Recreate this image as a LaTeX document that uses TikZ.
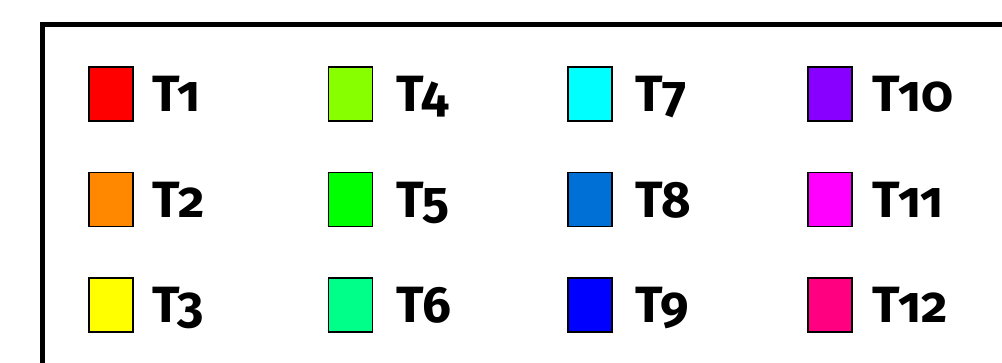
\documentclass[tikz,border=0pt]{standalone}
\usepackage{fontspec}
\setmainfont{Fira Sans}[Numbers=OldStyle]
\usetikzlibrary{positioning}

\definecolor{tone1}{HTML}{FF0000}
\definecolor{tone2}{HTML}{FF8800}
\definecolor{tone3}{HTML}{FFFF00}
\definecolor{tone4}{HTML}{88FF00}
\definecolor{tone5}{HTML}{00FF00}
\definecolor{tone6}{HTML}{00FF88}
\definecolor{tone7}{HTML}{00FFFF}
\definecolor{tone8}{HTML}{006FD6}
\definecolor{tone9}{HTML}{0000FF}
\definecolor{tone10}{HTML}{8800FF}
\definecolor{tone11}{HTML}{FF00FF}
\definecolor{tone12}{HTML}{FF0080}

\begin{document}
\begin{tikzpicture}[x=1pt,y=-1pt]

  \tikzstyle{every node}=[font=\fontsize{51}{51}\selectfont\bfseries]

  \tikzset{swatch/.style={draw=black,line width=1.6pt,minimum width=44pt,
      minimum height=54pt,inner sep=0pt,fill=#1}}
  \tikzset{tlabel/.style={inner sep=0pt,text height=35pt,text depth=0pt,anchor=west}}

  \useasboundingbox (0,0) rectangle (1002,363);

  % Frame, cut off at the right and bottom
  \begin{scope}
    \clip (0,0) rectangle (1002,363);
    \coordinate (frame top) at (1010,25);
    \coordinate (frame corner) at (42,25);
    \coordinate (frame bottom) at (42,370);
    \draw[line width=5pt] (frame top) -- (frame corner) -- (frame bottom);
  \end{scope}

  % First column
  \node[swatch=tone1] (T1 box) at (111,94) {};
  \node[swatch=tone2,below=50pt of T1 box] (T2 box) {};
  \node[swatch=tone3,below=50pt of T2 box] (T3 box) {};

  % Second column
  \node[swatch=tone4,right=194pt of T1 box] (T4 box) {};
  \node[swatch=tone5,below=50pt of T4 box] (T5 box) {};
  \node[swatch=tone6,below=50pt of T5 box] (T6 box) {};

  % Third column
  \node[swatch=tone7,right=194pt of T4 box] (T7 box) {};
  \node[swatch=tone8,below=50pt of T7 box] (T8 box) {};
  \node[swatch=tone9,below=50pt of T8 box] (T9 box) {};

  % Fourth column
  \node[swatch=tone10,right=194pt of T7 box] (T10 box) {};
  \node[swatch=tone11,below=50pt of T10 box] (T11 box) {};
  \node[swatch=tone12,below=50pt of T11 box] (T12 box) {};

  % Labels
  \node[tlabel,right=18pt of T1 box] (T1) {T1};
  \node[tlabel,right=18pt of T2 box] (T2) {T2};
  \node[tlabel,right=18pt of T3 box] (T3) {T3};
  \node[tlabel,right=23pt of T4 box] (T4) {T4};
  \node[tlabel,right=23pt of T5 box] (T5) {T5};
  \node[tlabel,right=23pt of T6 box] (T6) {T6};
  \node[tlabel,right=22pt of T7 box] (T7) {T7};
  \node[tlabel,right=22pt of T8 box] (T8) {T8};
  \node[tlabel,right=22pt of T9 box] (T9) {T9};
  \node[tlabel,right=20pt of T10 box] (T10) {T10};
  \node[tlabel,right=20pt of T11 box] (T11) {T11};
  \node[tlabel,right=20pt of T12 box] (T12) {T12};

\end{tikzpicture}
\end{document}
